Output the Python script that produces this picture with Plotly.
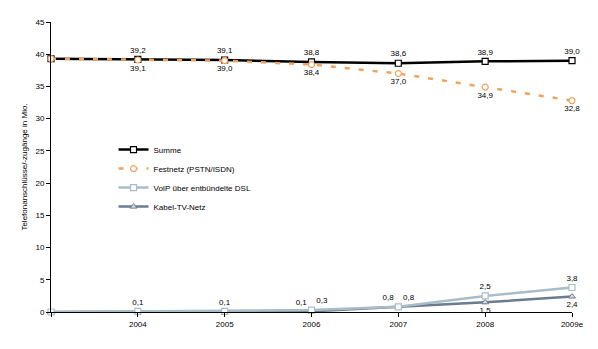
import plotly.graph_objects as go

categories = ["2003", "2004", "2005", "2006", "2007", "2008", "2009e"]
tick_labels = ["", "2004", "2005", "2006", "2007", "2008", "2009e"]
summe = [39.3, 39.2, 39.1, 38.8, 38.6, 38.9, 39.0]
festnetz = [39.3, 39.1, 39.0, 38.4, 37.0, 34.9, 32.8]
voip = [0.0, 0.1, 0.1, 0.3, 0.8, 2.5, 3.8]
kabel = [0.0, 0.1, 0.1, 0.1, 0.8, 1.5, 2.4]

def fmt(v):
    return f"{v:.1f}".replace(".", ",")

xs = list(range(len(categories)))
FONT = "Liberation Sans, Arial, sans-serif"

fig = go.Figure()

fig.add_trace(go.Scatter(
    x=xs, y=kabel, name="Kabel-TV-Netz", mode="lines+markers+text", legendrank=4,
    line=dict(color="#6B7B91", width=2.5),
    marker=dict(symbol="triangle-up", size=6, color="#D8DEE6", line=dict(color="#6B7B91", width=1)),
    text=["", "", "", fmt(kabel[3]), fmt(kabel[4]), fmt(kabel[5]), fmt(kabel[6])],
    textposition=["top center", "top center", "top center", "top left", "top left", "bottom center", "bottom center"],
    textfont=dict(size=8, color="#000", family=FONT),
    cliponaxis=False,
))
fig.add_trace(go.Scatter(
    x=xs, y=voip, name="VoIP über entbündelte DSL", mode="lines+markers+text", legendrank=3,
    line=dict(color="#A9BDC9", width=2.5),
    marker=dict(symbol="square", size=6, color="white", line=dict(color="#A9BDC9", width=1.2)),
    text=[""] + [fmt(v) for v in voip[1:]],
    textposition=["top center", "top center", "top center", "top right", "top right", "top center", "top center"],
    textfont=dict(size=8, color="#000", family=FONT),
    cliponaxis=False,
))
fig.add_trace(go.Scatter(
    x=xs, y=summe, name="Summe", mode="lines+markers+text", legendrank=1,
    line=dict(color="#000000", width=2.5),
    marker=dict(symbol="square", size=6, color="white", line=dict(color="#000", width=1.2)),
    text=[""] + [fmt(v) for v in summe[1:]],
    textposition="top center",
    textfont=dict(size=8, color="#000", family=FONT),
    cliponaxis=False,
))
fig.add_trace(go.Scatter(
    x=xs, y=festnetz, name="Festnetz (PSTN/ISDN)", mode="lines+markers+text", legendrank=2,
    line=dict(color="#F0A35E", width=2.5, dash="5px,9px"),
    marker=dict(symbol="circle", size=6, color="white", line=dict(color="#F0A35E", width=1.2)),
    text=[""] + [fmt(v) for v in festnetz[1:]],
    textposition="bottom center",
    textfont=dict(size=8, color="#000", family=FONT),
    cliponaxis=False,
))

fig.update_layout(
    width=598, height=349,
    margin=dict(l=51, r=26, t=22, b=37),
    paper_bgcolor="white", plot_bgcolor="white",
    font=dict(family=FONT, size=8, color="#000"),
    showlegend=True,
    legend=dict(
        x=0.12, y=0.61, xanchor="left", yanchor="top",
        itemwidth=30,
        font=dict(size=8, family=FONT),
        bgcolor="rgba(0,0,0,0)",
        tracegroupgap=0,
    ),
)
fig.update_xaxes(
    range=[0, 6], tickmode="array", tickvals=xs, ticktext=tick_labels,
    showline=True, linecolor="#000", linewidth=1,
    ticks="outside", ticklen=4, tickcolor="#000",
    showgrid=False, zeroline=False,
    tickfont=dict(size=8),
)
fig.update_yaxes(
    range=[0, 45], tickmode="linear", dtick=5, tick0=0,
    showline=True, linecolor="#000", linewidth=1,
    ticks="outside", ticklen=4, tickcolor="#000",
    showgrid=False, zeroline=False,
    tickfont=dict(size=8),
    title=dict(text="Telefonanschlüsse/-zugänge in Mio.", font=dict(size=8), standoff=6),
)

fig.write_html("out.html")
